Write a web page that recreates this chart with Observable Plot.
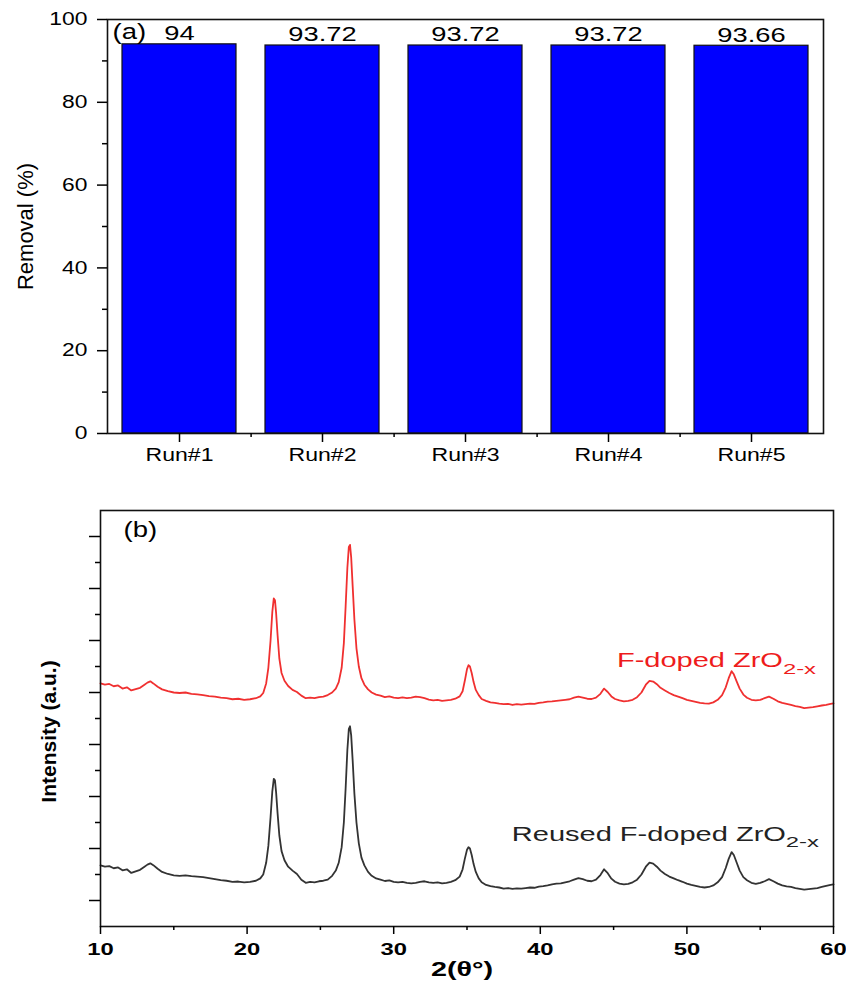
<!DOCTYPE html>
<html>
<head>
<meta charset="utf-8">
<script src="https://cdn.jsdelivr.net/npm/d3@7"></script>
<script src="https://cdn.jsdelivr.net/npm/@observablehq/plot@0.6"></script>
<style>
  body { margin: 0; background: #fff; }
  #chart svg { display: block; overflow: visible; }
</style>
</head>
<body>
<div id="chart"></div>
<script>
// ---------- Panel (a): removal per run ----------
const runs = ["Run#1", "Run#2", "Run#3", "Run#4", "Run#5"];
const removal = [94, 93.72, 93.72, 93.72, 93.66];
const removalLabels = ["94", "93.72", "93.72", "93.72", "93.66"];
const removalTicks = [0, 20, 40, 60, 80, 100];
const removalMinorTicks = [10, 30, 50, 70, 90];

// ---------- Panel (b): XRD patterns ----------
const theta = [10.0,10.3,10.6,10.9,11.2,11.5,11.8,12.1,12.4,12.7,13.0,13.2,13.4,13.6,13.9,14.2,14.6,15.0,15.4,15.8,16.2,16.6,17.0,17.4,17.8,18.2,18.6,19.0,19.4,19.8,20.2,20.6,20.9,21.1,21.3,21.45,21.6,21.72,21.82,21.9,21.98,22.08,22.2,22.35,22.55,22.8,23.1,23.4,23.7,24.0,24.3,24.6,24.9,25.2,25.5,25.8,26.05,26.25,26.45,26.6,26.72,26.84,26.94,27.02,27.1,27.2,27.32,27.46,27.62,27.8,28.0,28.25,28.5,28.8,29.1,29.4,29.7,30.0,30.3,30.6,30.9,31.2,31.5,31.8,32.1,32.4,32.7,33.0,33.3,33.6,33.9,34.2,34.5,34.7,34.85,35.0,35.1,35.2,35.32,35.45,35.6,35.8,36.0,36.3,36.6,36.9,37.2,37.5,37.8,38.1,38.4,38.7,39.0,39.3,39.6,39.9,40.2,40.5,40.8,41.1,41.4,41.7,42.0,42.3,42.6,42.9,43.2,43.5,43.8,44.1,44.35,44.6,44.85,45.1,45.4,45.7,46.0,46.3,46.6,46.9,47.2,47.45,47.7,47.95,48.2,48.5,48.8,49.1,49.4,49.7,50.0,50.3,50.6,50.9,51.2,51.5,51.8,52.1,52.4,52.65,52.85,53.05,53.2,53.4,53.6,53.85,54.1,54.4,54.7,55.0,55.3,55.6,55.9,56.2,56.5,56.8,57.1,57.4,57.7,58.0,58.3,58.6,58.9,59.2,59.5,59.8,60.0];

const fDoped = [9.35,9.30,9.33,9.24,9.27,9.15,9.20,9.08,9.13,9.18,9.30,9.38,9.43,9.35,9.22,9.12,9.05,9.00,8.98,9.00,8.95,8.93,8.90,8.86,8.84,8.80,8.78,8.74,8.76,8.72,8.74,8.78,8.85,8.98,9.35,9.95,11.0,12.1,12.62,12.55,12.05,11.2,10.3,9.75,9.45,9.25,9.10,9.02,8.88,8.78,8.80,8.78,8.82,8.84,8.90,9.00,9.15,9.40,9.95,10.9,12.3,13.8,14.6,14.68,14.2,13.1,11.8,10.7,10.0,9.55,9.30,9.12,9.00,8.92,8.88,8.82,8.85,8.80,8.78,8.81,8.78,8.80,8.84,8.82,8.78,8.73,8.70,8.72,8.68,8.70,8.72,8.76,8.85,9.05,9.45,9.90,10.05,10.0,9.75,9.40,9.10,8.90,8.75,8.68,8.62,8.60,8.57,8.55,8.56,8.52,8.55,8.53,8.55,8.57,8.56,8.60,8.62,8.65,8.66,8.68,8.70,8.72,8.74,8.80,8.84,8.80,8.76,8.75,8.80,8.95,9.15,9.02,8.85,8.75,8.70,8.66,8.68,8.72,8.82,9.00,9.30,9.45,9.42,9.32,9.18,9.08,8.98,8.90,8.84,8.78,8.72,8.68,8.64,8.60,8.58,8.57,8.62,8.72,8.90,9.20,9.55,9.82,9.70,9.42,9.15,8.92,8.80,8.72,8.70,8.72,8.78,8.84,8.76,8.66,8.60,8.56,8.52,8.48,8.45,8.40,8.42,8.44,8.47,8.50,8.52,8.56,8.58];

const reused = [2.35,2.30,2.32,2.24,2.27,2.16,2.20,2.06,2.12,2.18,2.30,2.38,2.43,2.36,2.22,2.10,2.02,1.97,1.95,1.97,1.94,1.92,1.90,1.86,1.82,1.78,1.76,1.72,1.73,1.70,1.72,1.76,1.85,2.00,2.45,3.10,4.20,5.20,5.68,5.62,5.15,4.35,3.50,2.90,2.55,2.30,2.15,2.02,1.80,1.68,1.72,1.70,1.74,1.76,1.80,1.95,2.15,2.45,3.05,4.00,5.30,6.80,7.60,7.70,7.35,6.40,5.10,4.00,3.20,2.65,2.35,2.10,1.95,1.85,1.80,1.75,1.77,1.72,1.70,1.72,1.68,1.66,1.68,1.72,1.74,1.70,1.68,1.70,1.66,1.68,1.72,1.78,1.92,2.20,2.60,2.95,3.05,3.00,2.75,2.40,2.10,1.85,1.70,1.60,1.55,1.52,1.50,1.46,1.48,1.45,1.47,1.46,1.48,1.50,1.49,1.53,1.55,1.58,1.62,1.65,1.66,1.70,1.74,1.80,1.86,1.82,1.76,1.74,1.80,1.98,2.20,2.05,1.84,1.72,1.65,1.62,1.64,1.70,1.80,2.00,2.30,2.46,2.42,2.30,2.15,2.02,1.92,1.85,1.78,1.72,1.65,1.60,1.56,1.52,1.50,1.52,1.58,1.70,1.90,2.25,2.60,2.86,2.75,2.45,2.15,1.90,1.78,1.68,1.64,1.68,1.74,1.82,1.74,1.65,1.58,1.54,1.52,1.48,1.45,1.42,1.44,1.46,1.48,1.52,1.56,1.60,1.62];

const thetaTicks = [10, 20, 30, 40, 50, 60];
const thetaMinorTicks = [15, 25, 35, 45, 55];
const intensityTicks = [1, 3, 5, 7, 9, 11, 13, 15];
const intensityMinorTicks = [2, 4, 6, 8, 10, 12, 14];

// curve annotations (data coordinates)
const curveNames = ["F-doped ZrO", "Reused F-doped ZrO"];
const curveSubs = ["2-x", "2-x"];
const curveNameTheta = [56.55, 56.75];
const curveNameIntensity = [10.0, 3.27];
const curveSubIntensity = [9.73, 3.04];
const curveColors = ["#ee1c1c", "#222222"];

// ---------- layout ----------
const W = 846;
const FONT = "'Liberation Sans', Arial, Helvetica, sans-serif";
const A = { h: 490, ml: 107, mr: 23, mt: 19, mb: 57 };
const B = { h: 496, ml: 100, mr: 13, mt: 20, mb: 60 };
const step = (W - A.ml - A.mr) / runs.length;

const barData = runs.map((r, i) => ({ run: r, value: removal[i], label: removalLabels[i] }));

const plotA = Plot.plot({
  width: W, height: A.h,
  marginLeft: A.ml, marginRight: A.mr, marginTop: A.mt, marginBottom: A.mb,
  style: { fontFamily: FONT, color: "#000", background: "#fff" },
  x: { domain: runs, paddingInner: 0.2, paddingOuter: 0.1 },
  y: { domain: [0, 100] },
  marks: [
    Plot.barY(barData, { x: "run", y: "value", fill: "#0000ff", stroke: "#111", strokeWidth: 1.2 }),
    Plot.text(barData, { x: "run", y: "value", text: "label", dy: -4, lineAnchor: "bottom", fontSize: 21, fill: "#000", ariaDescription: "value-label" }),
    Plot.frame({ stroke: "#111", strokeWidth: 1.6 }),
    Plot.axisY(removalTicks, { tickSize: 10, tickPadding: 10, fontSize: 18, label: null, strokeWidth: 1.5 }),
    Plot.axisY(removalMinorTicks, { tickSize: 5, tickFormat: () => "", label: null, strokeWidth: 1.5 }),
    Plot.axisX(runs, { tickSize: 9, tickPadding: 6, fontSize: 18, label: null, strokeWidth: 1.5 }),
    Plot.axisX(runs.slice(0, -1), { tickSize: 4, tickFormat: () => "", label: null, dx: step / 2, strokeWidth: 1.5 }),
    Plot.text(["(a)"], { frameAnchor: "top-left", text: d => d, textAnchor: "start", dx: 5, dy: 4, lineAnchor: "top", fontSize: 22, ariaDescription: "panel-label" }),
    Plot.text(["Removal (%)"], { frameAnchor: "left", text: d => d, textAnchor: "middle", rotate: -90, dx: -82, fontSize: 22, ariaDescription: "y-title" })
  ]
});

const xrd = theta.map((t, i) => ({ t, a: fDoped[i], b: reused[i] }));
const ann = curveNames.map((n, i) => ({ name: n, sub: curveSubs[i], t: curveNameTheta[i], y: curveNameIntensity[i], ys: curveSubIntensity[i], c: curveColors[i] }));

const plotB = Plot.plot({
  width: W, height: B.h,
  marginLeft: B.ml, marginRight: B.mr, marginTop: B.mt, marginBottom: B.mb,
  style: { fontFamily: FONT, color: "#000", background: "#fff" },
  x: { domain: [10, 60] },
  y: { domain: [0, 16] },
  marks: [
    Plot.line(xrd, { x: "t", y: "b", stroke: "#333333", strokeWidth: 1.8 }),
    Plot.line(xrd, { x: "t", y: "a", stroke: "#f03030", strokeWidth: 1.8 }),
    Plot.text(ann, { x: "t", y: "y", text: "name", fill: "c", textAnchor: "end", lineAnchor: "bottom", fontSize: 20, ariaDescription: "curve-label" }),
    Plot.text(ann, { x: "t", y: "ys", text: "sub", fill: "c", textAnchor: "start", lineAnchor: "bottom", fontSize: 14, ariaDescription: "curve-sub" }),
    Plot.frame({ stroke: "#111", strokeWidth: 1.6 }),
    Plot.axisX(thetaTicks, { tickSize: 8, tickPadding: 8, fontSize: 17, fontWeight: "bold", label: null, strokeWidth: 1.5 }),
    Plot.axisX(thetaMinorTicks, { tickSize: 4, tickFormat: () => "", label: null, strokeWidth: 1.5 }),
    Plot.axisY(intensityTicks, { tickSize: 11, tickFormat: () => "", label: null, strokeWidth: 1.5 }),
    Plot.axisY(intensityMinorTicks, { tickSize: 5, tickFormat: () => "", label: null, strokeWidth: 1.5 }),
    Plot.text(["(b)"], { frameAnchor: "top-left", text: d => d, textAnchor: "start", dx: 23, dy: 11, lineAnchor: "top", fontSize: 22, ariaDescription: "panel-label" }),
    Plot.text(["Intensity (a.u.)"], { frameAnchor: "left", text: d => d, textAnchor: "middle", rotate: -90, dx: -51, dy: 13, fontSize: 21, fontWeight: "bold", ariaDescription: "y-title" }),
    Plot.text(["2(θ°)"], { frameAnchor: "bottom", text: d => d, textAnchor: "middle", dx: -5, dy: 49, lineAnchor: "bottom", fontSize: 21, fontWeight: "bold", ariaDescription: "x-title" })
  ]
});

const chart = document.getElementById("chart");
chart.appendChild(plotA);
chart.appendChild(plotB);

// horizontal widening of text to match the reference glyph widths
function widen(svg, selector, k) {
  svg.querySelectorAll(selector).forEach(t => {
    const L = t.getComputedTextLength();
    if (L > 0) {
      t.setAttribute("textLength", (L * k).toFixed(1));
      t.setAttribute("lengthAdjust", "spacingAndGlyphs");
    }
  });
}
widen(plotA, 'g[aria-label="y-axis tick label"] text', 1.27);
widen(plotA, 'g[aria-label="x-axis tick label"] text', 1.28);
widen(plotA, 'g[aria-description="value-label"] text', 1.3);
widen(plotA, 'g[aria-description="panel-label"] text', 1.25);
widen(plotB, 'g[aria-label="x-axis tick label"] text', 1.4);
widen(plotB, 'g[aria-description="x-title"] text', 1.37);
widen(plotB, 'g[aria-description="panel-label"] text', 1.25);
widen(plotB, 'g[aria-description="curve-label"] text', 1.45);
widen(plotB, 'g[aria-description="curve-sub"] text', 1.7);
</script>
</body>
</html>
